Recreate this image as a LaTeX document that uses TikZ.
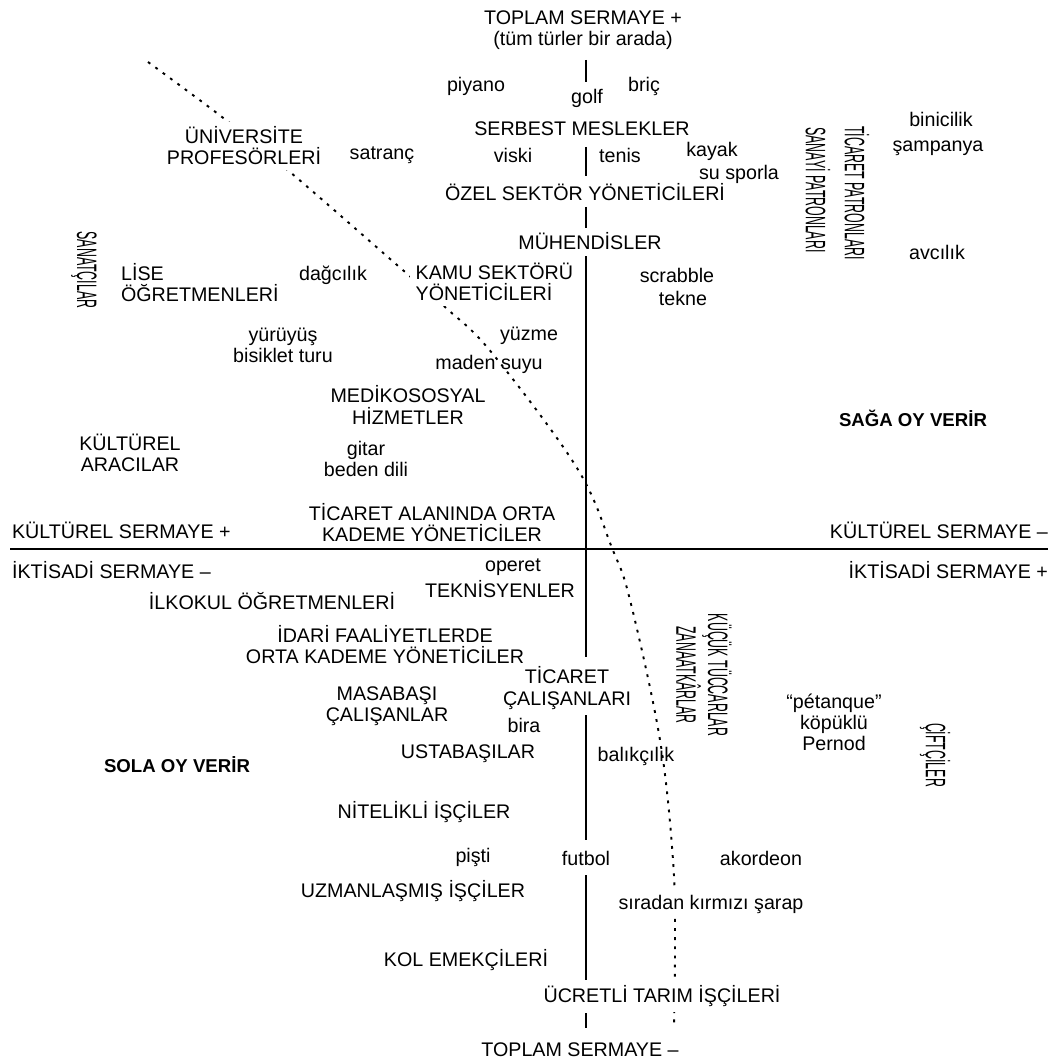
\documentclass[tikz,border=0pt]{standalone}
\usepackage{fontspec}
\setmainfont{Liberation Sans}
\newfontfamily\dikeyaile[FakeStretch=0.44]{Liberation Sans}
\usepackage{tikz}
\newcommand{\yazifont}{\fontsize{11.2}{12}\selectfont}
\newcommand{\oyfont}{\fontsize{10.6}{12}\selectfont\bfseries}
\newcommand{\dikeyfont}{\dikeyaile\fontsize{16}{18}\selectfont}
\tikzset{
    grup/.style={font=\yazifont, align=center, inner sep=1pt},
    grupsol/.style={font=\yazifont, align=left, inner sep=1pt, anchor=west},
    etkinlik/.style={font=\yazifont, inner sep=1pt},
    dikey/.style={font=\dikeyfont, rotate=-90, align=center, inner sep=1pt},
    oy/.style={font=\oyfont, inner sep=1pt},
    eksenyazi/.style={font=\yazifont, inner sep=1pt},
    eksen/.style={draw=black, line width=1.1pt},
    sinir/.style={draw=black, line width=1.1pt, dash pattern=on 1.6pt off 3.6pt},
    bosluk/.style={fill=white, inner sep=3pt},
}

\begin{document}
\begin{tikzpicture}[x=0.02cm, y=-0.02cm]
\useasboundingbox (0,0) rectangle (1060,1064);
% \draw[step=50, very thin, gray] (0,0) grid (1060,1064);
\draw[sinir] plot[smooth, tension=0.6] coordinates {(148,62) (222,117) (290,172) (397,265) (445,307) (492,353) (577,468) (612,548) (630,600) (660,740) (673,860) (675,940) (674,1025)};

% ust yari
\node[grup] (toplamust) at (583,30) {TOPLAM SERMAYE +\\(tüm türler bir arada)};
\node[etkinlik] (piyano) at (476,86) {piyano};
\node[etkinlik] (golf) at (587,98) {golf};
\node[etkinlik] (bric) at (644,86) {briç};
\node[grup] (serbest) at (582,129) {SERBEST MESLEKLER};
\node[grup, bosluk] (univ) at (244,146) {ÜNİVERSİTE\\PROFESÖRLERİ};
\node[etkinlik] (satranc) at (382,155) {satranç};
\node[etkinlik] (viski) at (513,155) {viski};
\node[etkinlik] (tenis) at (620,155) {tenis};
\node[etkinlik] (kayak) at (712,151) {kayak};
\node[etkinlik] (susporu) at (739,174) {su sporla};
\node[etkinlik] (binicilik) at (941,119) {binicilik};
\node[etkinlik] (sampanya) at (938,148) {şampanya};
\node[dikey] (sanayi) at (818,190) {SANAYİ PATRONLARI};
\node[dikey] (ticpatron) at (857,193) {TİCARET PATRONLARI};
\node[grup] (ozel) at (585,192) {ÖZEL SEKTÖR YÖNETİCİLERİ};
\node[grup] (muhendis) at (590,241) {MÜHENDİSLER};
\node[etkinlik] (avcilik) at (937,252) {avcılık};
\node[grupsol, bosluk] (kamu) at (410,282) {KAMU SEKTÖRÜ\\YÖNETİCİLERİ};
\node[etkinlik] (dagcilik) at (333,275) {dağcılık};
\node[grupsol] (lise) at (119,283) {LİSE\\ÖĞRETMENLERİ};
\node[dikey] (sanatci) at (84,270) {SANATÇILAR};
\node[etkinlik] (scrabble) at (677,275) {scrabble};
\node[etkinlik] (tekne) at (683,298) {tekne};
\node[grup] (yuruyus) at (283,345) {yürüyüş\\bisiklet turu};
\node[etkinlik] (yuzme) at (529,336) {yüzme};
\node[etkinlik] (maden) at (489,364) {maden suyu};
\node[grup] (mediko) at (408,405) {MEDİKOSOSYAL\\HİZMETLER};
\node[oy] (sagaoy) at (913,418) {SAĞA OY VERİR};
\node[grup] (kulturel) at (130,453) {KÜLTÜREL\\ARACILAR};
\node[grup] (gitar) at (366,459) {gitar\\beden dili};
\node[grup] (ticorta) at (432,523) {TİCARET ALANINDA ORTA\\KADEME YÖNETİCİLER};
\node[eksenyazi, anchor=west] (kultarti) at (10,530) {KÜLTÜREL SERMAYE +};
\node[eksenyazi, anchor=east] (kulteksi) at (1050,530) {KÜLTÜREL SERMAYE --};
\node[eksenyazi, anchor=west] (iktseksi) at (10,570) {İKTİSADİ SERMAYE --};
\node[eksenyazi, anchor=east] (iktsarti) at (1050,570) {İKTİSADİ SERMAYE +};

% alt yari
\node[etkinlik] (operet) at (513,567) {operet};
\node[grup] (teknisyen) at (500,589) {TEKNİSYENLER};
\node[grup] (ilkokul) at (272,601) {İLKOKUL ÖĞRETMENLERİ};
\node[grup] (idari) at (385,645) {İDARİ FAALİYETLERDE\\ORTA KADEME YÖNETİCİLER};
\node[grup] (ticcalisan) at (567,688) {TİCARET\\ÇALIŞANLARI};
\node[grup] (masabasi) at (387,706) {MASABAŞI\\ÇALIŞANLAR};
\node[etkinlik] (bira) at (524,725) {bira};
\node[grup] (ustabasi) at (468,754) {USTABAŞILAR};
\node[etkinlik] (balikcilik) at (636,756) {balıkçılık};
\node[oy] (solaoy) at (177,765) {SOLA OY VERİR};
\node[dikey] (tuccar) at (704,675) {KÜÇÜK TÜCCARLAR\\ZANAATKÂRLAR};
\node[grup] (petanque) at (834,722) {“pétanque”\\köpüklü\\Pernod};
\node[dikey] (ciftci) at (935,755) {ÇİFTÇİLER};
\node[grup] (nitelikli) at (424,812) {NİTELİKLİ İŞÇİLER};
\node[etkinlik] (pisti) at (473,857) {pişti};
\node[etkinlik] (futbol) at (586,858) {futbol};
\node[etkinlik] (akordeon) at (761,858) {akordeon};
\node[grup] (uzman) at (413,891) {UZMANLAŞMIŞ İŞÇİLER};
\node[etkinlik, bosluk] (siradan) at (711,904) {sıradan kırmızı şarap};
\node[grup] (kolemek) at (466,960) {KOL EMEKÇİLERİ};
\node[grup, bosluk] (ucretli) at (662,996) {ÜCRETLİ TARIM İŞÇİLERİ};
\node[grup] (toplamalt) at (580,1050) {TOPLAM SERMAYE --};

% eksenler
\draw[eksen] (10,549) -- (1048,549);
\foreach \ust/\alt in {60/82, 147/176, 207/228, 256/657, 715/840, 875/980, 1013/1028}
    \draw[eksen] (586,\ust) -- (586,\alt);
\end{tikzpicture}
\end{document}
